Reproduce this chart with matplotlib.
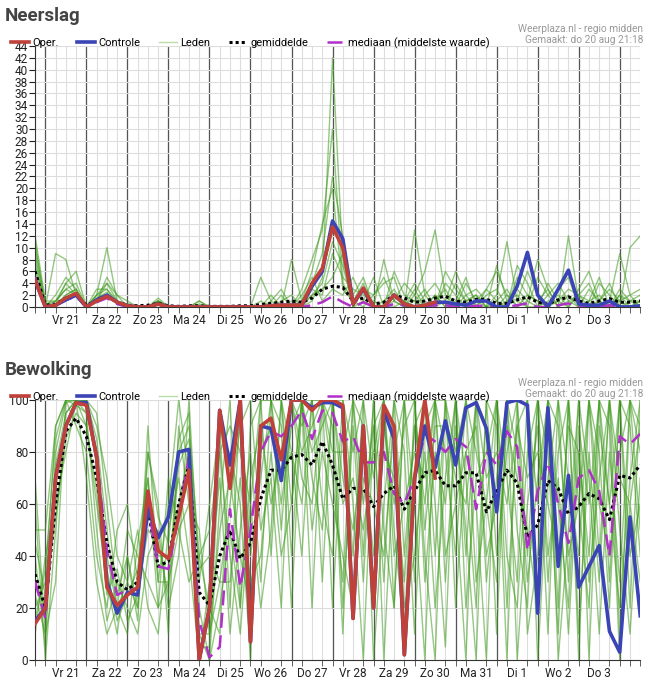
import matplotlib.pyplot as plt
import numpy as np

plt.rcParams['font.family'] = ['Roboto', 'DejaVu Sans']

days = ['Vr 21', 'Za 22', 'Zo 23', 'Ma 24', 'Di 25', 'Wo 26', 'Do 27',
        'Vr 28', 'Za 29', 'Zo 30', 'Ma 31', 'Di 1', 'Wo 2', 'Do 3']

# 6-hourly values, starting 20 aug 18:00
rain_oper = [4.5, 0, 0.3, 1.5, 2.3, 0, 1, 1.8, 0.8, 0.2, 0, 0, 0.5, 0, 0, 0, 0, 0, 0, 0,
             0, 0, 0, 0.2, 0.3, 0.3, 0.3, 4, 6.5, 13.5, 10, 0.5, 3.2, 0, 0, 2, 0.5, 0, 0.3, 0.8]
rain_ctrl = [4.5, 0, 0.3, 1.2, 2, 0, 1.2, 2, 0.8, 0.2, 0, 0, 0.5, 0, 0, 0, 0, 0, 0, 0,
             0, 0, 0, 0.2, 0.3, 0.3, 0.3, 3.5, 6, 14.5, 11.5, 0.5, 3, 0, 0, 2, 0.5, 0, 0.3, 0.8,
             0.8, 0.5, 0.3, 1, 1, 0, 0, 3.5, 9.2, 2, 0, 3, 6.2, 0.5, 0.3, 0.3, 1, 0, 0, 0.2]
rain_mean = [6, 0.3, 0.5, 1.5, 2, 0.3, 1, 1.8, 0.8, 0.3, 0.2, 0.3, 0.6, 0.2, 0.1, 0.2, 0.2, 0.1, 0.1, 0.1,
             0.2, 0.2, 0.4, 0.6, 0.8, 1, 0.8, 1.5, 3, 3.5, 3.3, 1, 1.5, 0.5, 0.8, 2, 1.5, 0.8, 1, 1.5,
             1.8, 1, 0.8, 1.3, 1.3, 0.6, 0.6, 1.2, 1.7, 0.8, 0.5, 1.2, 1.7, 1, 0.6, 1, 1.4, 0.8, 0.8, 1]
rain_med = [5, 0, 0.2, 1.2, 1.8, 0, 0.8, 1.5, 0.5, 0, 0, 0, 0.3, 0, 0, 0, 0, 0, 0, 0,
            0, 0, 0, 0, 0, 0.2, 0, 0.3, 0.8, 1.8, 0.8, 0, 0.8, 0, 0, 0.5, 0.3, 0, 0, 0.3,
            0.3, 0, 0, 0.2, 0.2, 0, 0, 0.3, 0.6, 0, 0, 0.3, 0.6, 0, 0, 0, 0.3, 0, 0, 0.2]
rain_leden = [
    [9, 0, 0.5, 2, 3, 0, 1, 2, 1, 0, 0, 0, 1, 0, 0, 0, 0, 0, 0, 0, 0, 0, 0, 0, 1, 2, 0, 1, 5, 42, 8, 0, 3, 0, 0, 1, 4, 2, 0, 1,
     3, 0, 1, 2, 0, 0, 1, 3, 1, 0, 2, 4, 1, 0, 0, 1, 3, 1, 0, 1],
    [12, 1, 1, 3, 4, 0, 2, 10, 1, 0, 0, 0, 1, 0, 0, 0, 1, 0, 0, 0, 0, 0, 5, 1, 0, 0, 3, 8, 13, 30, 4, 1, 0, 2, 5, 1, 0, 13, 2, 0,
     1, 6, 2, 0, 3, 1, 0, 7, 4, 0, 1, 2, 0, 3, 6, 1, 0, 2, 1, 0],
    [6, 0, 9, 8, 2, 0, 1, 5, 2, 1, 0, 0, 1.5, 0, 0, 0, 0, 0, 0, 0, 0, 0, 0, 2, 0, 8, 1, 4, 9, 22, 12, 2, 5, 0, 1, 3, 0, 2, 6, 13,
     2, 0, 4, 1, 0, 2, 11, 1, 0, 5, 2, 0, 12, 1, 0, 4, 2, 0, 10, 12],
    [8, 0, 1, 4, 6, 0, 3, 3, 0.5, 0, 0, 0, 0.5, 0, 0, 0, 0, 0, 0, 0, 0, 0, 0, 0, 0, 1, 0, 2, 3, 5, 9, 0, 1, 5, 0, 0, 1, 4, 1, 0,
     4, 2, 0, 1, 3, 6, 2, 0, 1, 8, 3, 0, 1, 2, 4, 0, 1, 9, 2, 3],
    [5, 0, 0, 2, 3, 0, 1, 4, 1, 0, 0, 0, 1, 0, 0, 0, 1, 0, 0, 0, 0, 0, 0, 1, 3, 0, 2, 5, 1, 3, 2, 5, 1, 0, 8, 1, 0, 3, 0, 2,
     0, 1, 5, 0, 0, 7, 1, 2, 0, 0, 4, 1, 0, 2, 1, 5, 0, 2, 0, 1],
    [10, 0.5, 1, 3, 2, 0, 2, 3, 1, 0.5, 0, 0, 1, 0, 0, 0, 0, 0, 0, 0, 0, 0, 1, 0, 0, 0, 1, 6, 14, 20, 3, 1, 4, 0, 0, 6, 2, 1, 3, 0,
     6, 3, 1, 0, 2, 3, 0, 5, 2, 1, 0, 3, 5, 0, 1, 2, 0, 3, 1, 1],
    [7, 0, 0.5, 4, 2, 0, 1.5, 2.5, 0.5, 0, 0, 0, 0.8, 0, 0, 0, 0, 0, 0, 0, 0, 0, 0, 0, 2, 0, 0, 3, 2, 9, 5, 3, 2, 1, 0, 2, 1, 0, 2, 4,
     1, 0, 2, 3, 1, 0, 2, 1, 6, 2, 0, 1, 3, 2, 0, 1, 4, 0, 1, 2],
    [11, 0, 2, 5, 3, 0, 2, 4, 2, 0, 0, 0, 1, 0, 0, 0, 0.5, 0, 0, 0, 0, 0, 0, 0, 0, 0, 0.5, 2, 4, 11, 7, 0, 3, 2, 4, 5, 0, 1, 0, 2,
     0, 4, 1, 2, 0, 1, 3, 0, 2, 1, 3, 0, 2, 0, 3, 1, 0, 1, 2, 0],
]

cloud_oper = [14, 20, 70, 90, 99, 98, 78, 28, 21, 25, 28, 65, 42, 39, 55, 73, 0, 20, 96, 66,
              100, 7, 90, 93, 77, 100, 100, 96, 100, 100, 98, 16, 90, 20, 98, 90, 2, 70, 100, 70]
cloud_ctrl = [15, 20, 70, 90, 99, 99, 78, 30, 18, 26, 25, 58, 47, 55, 80, 81, 0, 20, 96, 75,
              100, 7, 90, 89, 69, 100, 100, 97, 99, 99, 97, 16, 90, 20, 96, 85, 2, 70, 90, 74,
              92, 75, 97, 99, 89, 57, 99, 100, 98, 18, 97, 36, 71, 28, 36, 44, 11, 3, 55, 17]
cloud_mean = [33, 20, 60, 88, 93, 86, 70, 45, 30, 27, 30, 58, 36, 38, 60, 75, 26, 21, 40, 50,
              39, 45, 62, 73, 73, 78, 79, 75, 84, 75, 62, 66, 66, 59, 64, 67, 58, 65, 72, 73,
              67, 67, 72, 72, 57, 65, 73, 68, 47, 52, 69, 66, 56, 59, 64, 62, 54, 71, 70, 75]
cloud_med = [30, 16, 70, 90, 99, 97, 78, 42, 25, 27, 27, 60, 36, 35, 55, 78, 15, 1, 5, 58,
             28, 50, 80, 88, 86, 90, 96, 85, 96, 95, 84, 86, 76, 76, 80, 64, 60, 70, 87, 84,
             80, 85, 82, 58, 80, 75, 88, 82, 42, 65, 76, 60, 45, 70, 73, 65, 40, 86, 83, 87]
cloud_leden = [
    [40, 5, 80, 99, 100, 90, 60, 30, 10, 40, 20, 90, 30, 60, 100, 70, 10, 0, 60, 100, 20, 90, 100, 40, 100, 60, 100, 20, 100, 90,
     10, 100, 40, 100, 0, 80, 100, 30, 100, 60, 5, 100, 70, 20, 100, 90, 0, 100, 40, 100, 80, 10, 100, 60, 20, 100, 90, 0, 100, 50],
    [60, 0, 50, 95, 100, 100, 85, 50, 20, 10, 45, 70, 20, 30, 80, 90, 40, 20, 10, 80, 60, 0, 100, 100, 50, 100, 90, 100, 30, 100,
     100, 60, 0, 90, 100, 20, 100, 100, 40, 0, 100, 80, 100, 30, 60, 100, 20, 90, 100, 0, 70, 100, 30, 100, 0, 90, 60, 100, 20, 100],
    [20, 30, 90, 100, 98, 95, 50, 15, 30, 20, 10, 40, 50, 20, 40, 100, 30, 60, 90, 20, 100, 40, 70, 100, 90, 20, 100, 100, 60, 40,
     100, 80, 100, 0, 60, 100, 80, 10, 90, 100, 40, 60, 0, 100, 90, 10, 100, 50, 20, 100, 30, 80, 100, 0, 100, 40, 100, 70, 60, 90],
    [10, 40, 60, 80, 99, 100, 90, 70, 40, 30, 50, 20, 10, 50, 70, 40, 0, 30, 70, 10, 50, 80, 30, 100, 100, 80, 40, 100, 100, 70,
     30, 100, 60, 90, 30, 100, 40, 90, 60, 100, 100, 20, 80, 60, 0, 100, 70, 30, 100, 60, 100, 0, 50, 100, 70, 10, 80, 30, 100, 80],
    [70, 10, 30, 100, 90, 80, 40, 20, 50, 60, 30, 80, 60, 10, 90, 60, 50, 10, 30, 60, 90, 100, 50, 70, 20, 100, 70, 60, 100, 20,
     90, 40, 100, 70, 100, 50, 10, 100, 30, 80, 60, 100, 40, 100, 30, 70, 100, 0, 60, 90, 10, 100, 70, 40, 100, 80, 20, 100, 40, 60],
    [30, 20, 70, 90, 100, 100, 75, 40, 20, 30, 20, 60, 40, 40, 60, 80, 20, 0, 20, 50, 20, 70, 90, 60, 80, 100, 80, 90, 100, 100,
     70, 50, 80, 40, 80, 70, 30, 90, 100, 40, 100, 60, 80, 90, 40, 60, 100, 80, 30, 70, 100, 60, 20, 90, 60, 100, 30, 100, 90, 40],
    [50, 50, 90, 100, 100, 70, 30, 10, 20, 50, 40, 30, 20, 70, 50, 30, 40, 50, 80, 40, 10, 60, 20, 50, 100, 40, 100, 70, 50, 100,
     20, 90, 30, 100, 50, 20, 100, 60, 0, 100, 30, 90, 50, 0, 100, 40, 80, 100, 10, 40, 90, 20, 100, 10, 80, 30, 100, 50, 10, 70],
    [25, 10, 75, 95, 100, 95, 80, 35, 15, 25, 35, 70, 30, 30, 50, 60, 10, 10, 50, 70, 40, 20, 80, 90, 60, 90, 100, 80, 90, 100,
     60, 70, 50, 80, 100, 40, 60, 80, 70, 100, 80, 40, 100, 80, 60, 30, 90, 70, 50, 20, 100, 90, 40, 60, 100, 60, 40, 80, 100, 90],
    [45, 25, 55, 85, 95, 90, 65, 25, 35, 15, 25, 50, 45, 25, 75, 85, 35, 40, 30, 30, 70, 30, 40, 80, 40, 60, 100, 50, 80, 60,
     40, 20, 70, 60, 40, 90, 20, 40, 80, 20, 70, 100, 20, 70, 80, 100, 40, 20, 80, 100, 40, 70, 10, 80, 40, 100, 60, 20, 70, 100],
    [15, 35, 85, 100, 100, 100, 95, 60, 25, 40, 15, 80, 55, 45, 85, 95, 5, 5, 80, 90, 80, 60, 100, 100, 70, 80, 60, 100, 100, 80,
     80, 100, 90, 20, 90, 60, 90, 100, 50, 90, 90, 70, 60, 100, 70, 80, 60, 90, 70, 80, 60, 40, 90, 80, 30, 70, 100, 10, 60, 30],
]

n = len(cloud_ctrl)
t = np.arange(n)

fig = plt.figure(figsize=(6.5, 6.82), dpi=100)
ax1 = fig.add_axes([0.054, 0.5499, 0.931, 0.3827])
ax2 = fig.add_axes([0.054, 0.0323, 0.931, 0.3812])


def style(ax, ymax, ystep):
    ax.set_xlim(0, n - 1)
    ax.set_ylim(0, ymax)
    ax.set_yticks(np.arange(0, ymax + 1, ystep))
    ax.set_xticks(t, minor=True)
    ax.set_xticks(3 + 4 * np.arange(len(days)))
    ax.set_xticklabels(days)
    ax.tick_params(axis='x', which='major', length=0, labelsize=8.5, colors='#222', pad=5)
    ax.tick_params(axis='x', which='minor', length=4, color='#444')
    ax.tick_params(axis='y', labelsize=8.5, length=4, colors='#222', pad=1)
    for s in ['top', 'right']:
        ax.spines[s].set_visible(False)
    ax.spines['left'].set_color('#333')
    ax.spines['bottom'].set_color('#333')
    ax.grid(axis='y', color='#dddddd', lw=0.8, zorder=0)
    for i in t:
        ax.axvline(i, color='#dddddd', lw=0.8, zorder=0)
    for i in range(1, n, 4):
        ax.axvline(i, color='#555555', lw=0.9, zorder=1)


def draw(ax, leden, mean, med, ctrl, oper, title):
    for m in leden:
        ax.plot(t[:len(m)], m, color='#3d9a1a', lw=1.0, alpha=0.55, zorder=2)
    h3, = ax.plot([], [], color='#b9dcaa', lw=1)
    h4, = ax.plot(t, mean, color='black', lw=2.2, ls=(0, (1, 1)), zorder=4)
    h5, = ax.plot(t, med, color='#b030c8', lw=1.8, ls=(0, (6, 3)), zorder=4)
    h2, = ax.plot(t[:len(ctrl)], ctrl, color='#3a44b5', lw=2.6, zorder=5)
    h1, = ax.plot(t[:len(oper)], oper, color='#c0403a', lw=2.6, zorder=6)
    ax.legend([h1, h2, h3, h4, h5],
              ['Oper.', 'Controle', 'Leden', 'gemiddelde', 'mediaan (middelste waarde)'],
              loc='lower left', bbox_to_anchor=(-0.04, 0.99), ncol=5, frameon=False,
              fontsize=8, handlelength=1.6, handletextpad=0.3, columnspacing=1.7,
              borderaxespad=0, borderpad=0)
    ax.text(1.005, 1.005, 'Weerplaza.nl - regio midden\nGemaakt: do 20 aug 21:18',
            transform=ax.transAxes, ha='right', va='bottom', fontsize=7.3,
            color='#999999', linespacing=1.1)
    ax.text(-0.05, 1.08, title, transform=ax.transAxes, fontsize=13.5, fontweight='bold',
            color='#444444', va='bottom')


style(ax1, 44, 2)
style(ax2, 100, 20)
draw(ax1, rain_leden, rain_mean, rain_med, rain_ctrl, rain_oper, 'Neerslag')
draw(ax2, cloud_leden, cloud_mean, cloud_med, cloud_ctrl, cloud_oper, 'Bewolking')

fig.savefig('out.png', dpi=100)
